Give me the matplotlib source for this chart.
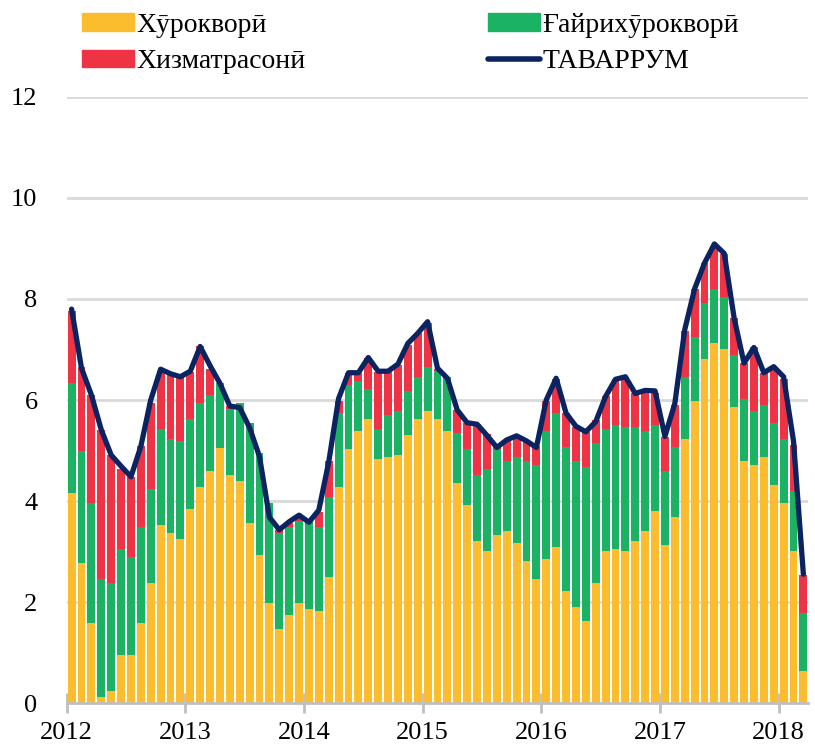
import matplotlib.pyplot as plt
import numpy as np
from matplotlib.patches import Patch
from matplotlib.lines import Line2D

plt.rcParams['font.family'] = ['Liberation Serif', 'DejaVu Serif']

# monthly, Jan 2012 .. Mar 2018
food = [4.16, 2.78, 1.59, 0.12, 0.24, 0.95, 0.95, 1.59, 2.38, 3.52, 3.37, 3.25,
        3.84, 4.28, 4.59, 5.04, 4.51, 4.40, 3.57, 2.93, 1.99, 1.47, 1.74, 1.99,
        1.86, 1.82, 2.50, 4.28, 5.03, 5.39, 5.62, 4.83, 4.87, 4.91, 5.31, 5.62,
        5.78, 5.62, 5.39, 4.36, 3.92, 3.21, 3.01, 3.33, 3.41, 3.17, 2.81, 2.46,
        2.85, 3.09, 2.22, 1.90, 1.62, 2.38, 3.01, 3.05, 3.01, 3.21, 3.41, 3.80,
        3.13, 3.68, 5.23, 5.98, 6.81, 7.13, 7.01, 5.86, 4.79, 4.71, 4.87, 4.32,
        3.96, 3.01, 0.63]
nonfood = [2.17, 2.21, 2.37, 2.34, 2.14, 2.10, 1.94, 1.90, 1.86, 1.91, 1.86, 1.94,
           1.78, 1.66, 1.51, 1.30, 1.32, 1.54, 1.97, 2.02, 1.97, 1.90, 1.75, 1.62,
           1.74, 1.67, 1.58, 1.46, 1.27, 0.99, 0.60, 0.60, 0.83, 0.87, 0.87, 0.84,
           0.87, 0.95, 1.06, 0.99, 1.11, 1.30, 1.62, 1.70, 1.38, 1.70, 1.98, 2.25,
           2.54, 2.65, 2.85, 2.89, 3.05, 2.77, 2.42, 2.45, 2.46, 2.26, 1.98, 1.70,
           1.46, 1.39, 1.23, 1.27, 1.11, 1.07, 1.03, 1.03, 1.23, 1.07, 1.03, 1.22,
           1.27, 1.19, 1.15]
services = [1.43, 1.66, 2.14, 2.95, 2.53, 1.58, 1.59, 1.59, 1.70, 1.15, 1.30, 1.27,
            0.93, 1.12, 0.51, 0.00, 0.05, 0.00, 0.00, 0.00, 0.00, 0.06, 0.08, 0.09,
            0.00, 0.29, 0.71, 0.24, 0.23, 0.15, 0.61, 1.12, 0.85, 0.91, 0.91, 0.86,
            0.88, 0.05, 0.00, 0.45, 0.52, 1.01, 0.70, 0.03, 0.42, 0.42, 0.40, 0.37,
            0.59, 0.68, 0.67, 0.68, 0.70, 0.45, 0.64, 0.91, 0.99, 0.66, 0.78, 0.64,
            0.68, 0.83, 0.91, 0.95, 0.79, 0.84, 0.86, 0.73, 0.71, 1.27, 0.63, 1.08,
            1.19, 0.91, 0.75]
inflation = [7.80, 6.63, 6.10, 5.41, 4.91, 4.69, 4.48, 5.08, 6.00, 6.61, 6.52, 6.46,
             6.57, 7.06, 6.68, 6.33, 5.88, 5.85, 5.45, 4.88, 3.68, 3.43, 3.59, 3.72,
             3.58, 3.82, 4.77, 6.03, 6.54, 6.54, 6.84, 6.57, 6.57, 6.71, 7.12, 7.32,
             7.55, 6.63, 6.43, 5.80, 5.55, 5.52, 5.30, 5.06, 5.21, 5.29, 5.19, 5.06,
             6.00, 6.43, 5.74, 5.48, 5.37, 5.57, 6.07, 6.41, 6.46, 6.13, 6.19, 6.18,
             5.28, 5.93, 7.39, 8.20, 8.71, 9.09, 8.90, 7.62, 6.73, 7.04, 6.54, 6.66,
             6.46, 5.19, 2.55]
years = ['2012', '2013', '2014', '2015', '2016', '2017', '2018']
labels = ['Хӯрокворӣ', 'Хизматрасонӣ', 'Ғайрихӯрокворӣ', 'ТАВАРРУМ']

c_food = '#fbbd2e'
c_nonfood = '#1cb263'
c_serv = '#ee3444'
c_line = '#0b2461'

food = np.array(food)
nonfood = np.array(nonfood)
services = np.array(services)
x = np.arange(len(food)) + 0.5

fig = plt.figure(figsize=(8.15, 7.46), dpi=100)
ax = fig.add_axes([0.0818, 0.0576, 0.910, 0.8124])

ax.bar(x, food, width=0.8, color=c_food, zorder=2)
ax.bar(x, nonfood, width=0.8, bottom=food, color=c_nonfood, zorder=2)
ax.bar(x, services, width=0.8, bottom=food + nonfood, color=c_serv, zorder=2)
ax.plot(x, inflation, color=c_line, lw=3.8, solid_joinstyle='round',
        solid_capstyle='round', zorder=3)

ax.set_xlim(0, len(food))
ax.set_ylim(0, 12)
ax.set_yticks(np.arange(0, 13, 2))
ax.set_xticks(np.arange(0, 73, 12))
ax.set_xticklabels(years)
ax.tick_params(axis='y', length=0, labelsize=19, pad=21)
ax.tick_params(axis='x', direction='inout', length=15, width=2, color='#bfbfbf',
               labelsize=19, pad=6)
ax.yaxis.grid(True, color='#d9d9d9', lw=2, zorder=0)
ax.set_axisbelow(True)
for s in ['left', 'right', 'top']:
    ax.spines[s].set_visible(False)
ax.spines['bottom'].set_color('#bfbfbf')
ax.spines['bottom'].set_linewidth(2)
ax.spines['bottom'].set_zorder(4)

leg_kw = dict(loc='upper left', frameon=False, fontsize=20, handlelength=1.87,
              handleheight=0.6, handletextpad=0.1, labelspacing=0.42,
              borderpad=0, borderaxespad=0)
h1 = [Patch(color=c_food), Patch(color=c_serv)]
h2 = [Patch(color=c_nonfood), Line2D([], [], color=c_line, lw=4, solid_capstyle='round')]
fig.legend(h1, labels[:2], bbox_to_anchor=(82 / 815, 0.983), **leg_kw)
fig.legend(h2, labels[2:], bbox_to_anchor=(488 / 815, 0.983), **leg_kw)

fig.savefig('out.png', dpi=100)
